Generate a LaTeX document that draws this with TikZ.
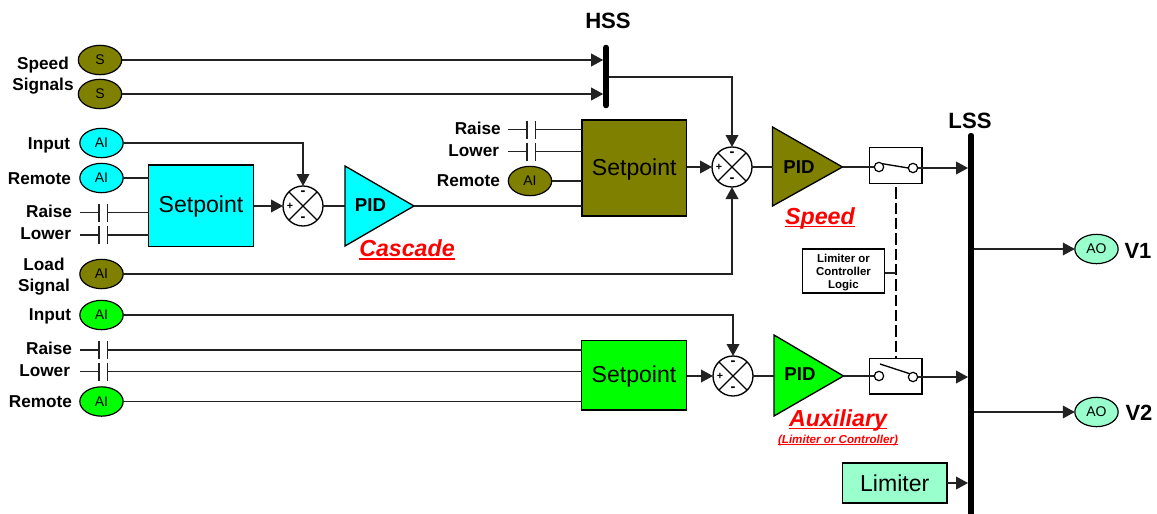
\documentclass[tikz,border=0pt]{standalone}
\usepackage{fontspec}
\setmainfont{Liberation Sans}
\usetikzlibrary{shapes.geometric,arrows.meta,calc}
\definecolor{olive}{HTML}{808000}
\definecolor{cy}{HTML}{00FFFF}
\definecolor{gr}{HTML}{00FF00}
\definecolor{aq}{HTML}{99FFCC}
\definecolor{ln}{HTML}{222222}
\newcommand{\fsz}[1]{\fontsize{#1}{#1}\selectfont}
\newsavebox{\ulbox}
\newcommand{\ulA}[1]{\sbox{\ulbox}{#1}\rlap{\rule[-2.4pt]{\wd\ulbox}{1.2pt}}\usebox{\ulbox}}
\newcommand{\ulB}[1]{\sbox{\ulbox}{#1}\rlap{\rule[-1.5pt]{\wd\ulbox}{.7pt}}\usebox{\ulbox}}
\newcommand{\spt}{\raisebox{-5.4pt}[0pt][0pt]{Setpoint}}
\tikzset{
  wire/.style={draw=ln,line width=1.1pt},
  arr/.style={wire,-{Triangle[length=9pt,width=9.5pt]}},
  sig/.style={ellipse,draw=black,line width=.9pt,inner sep=0pt,outer sep=0pt,minimum width=32.5pt,minimum height=22pt,fill=#1,font=\fsz{10.5}},
  spbox/.style={rectangle,draw=black,line width=1pt,inner sep=0pt,outer sep=0pt,fill=#1,font=\fsz{17.3}},
  lab/.style={inner sep=0pt,outer sep=0pt,font=\fsz{12.9}\bfseries,anchor=mid east,yshift=-2.2pt},
  clab/.style={inner sep=0pt,outer sep=0pt,font=\fsz{12.9}\bfseries,anchor=mid,yshift=-2.2pt},
  title/.style={inner sep=0pt,font=\fsz{16.6}\bfseries,anchor=mid,yshift=-3pt},
  pidt/.style={inner sep=0pt,font=\fsz{14}\bfseries},
  tag/.style={inner sep=0pt,text=red,font=\fsz{17.4}\bfseries\itshape},
  sumc/.style={circle,draw=black,line width=1pt,fill=white,inner sep=0pt,outer sep=0pt,minimum size=30pt},
  sgn/.style={inner sep=0pt,font=\fsz{8}\bfseries},
  sgm/.style={inner sep=0pt,font=\fsz{11}\bfseries},
  bus/.style={rectangle,fill=black,inner sep=0pt,outer sep=0pt,rounded corners=1.8pt},
  sw/.style={rectangle,draw=black,line width=.9pt,fill=white,inner sep=0pt,outer sep=0pt,minimum width=39.5pt,minimum height=26.5pt},
  pole/.style={circle,draw=black,line width=.9pt,fill=white,inner sep=0pt,outer sep=0pt,minimum size=7pt},
  plate/.style={draw=ln,line width=1pt},
  tri/.style={draw=black,line width=1pt,fill=#1},
}
% sum junction: name, x, y
\newcommand{\sumj}[3]{%
  \node[sumc] (#1) at (#2,#3) {};
  \draw[line width=1pt] (#1.45)--(#1.225) (#1.135)--(#1.315);
  \node[sgn] at ($(#1)+(-13,0)$) {+};
  \node[sgm] (#1t) at (#2,#3-13) {-};
  \node[sgm] (#1b) at (#2,#3+13) {-};
}
% contact: name, x of first plate, y
\newcommand{\contact}[3]{%
  \coordinate (#1a) at (#2-19,#3);
  \coordinate (#1p) at (#2,#3);
  \coordinate (#1q) at (#2+8.5,#3);
  \draw[plate] (#2,#3-9)--(#2,#3+9) (#2+8.5,#3-9)--(#2+8.5,#3+9);
  \draw[wire] (#1a)--(#1p);
}
\begin{document}
\begin{tikzpicture}[x=.75pt,y=-.75pt]
\useasboundingbox (0,0) rectangle (1157,514);
% buses
\node[bus,minimum width=4.2pt,minimum height=47.5pt] (hss) at (606,76.5) {};
\node[bus,minimum width=4.4pt,minimum height=291pt] (lss) at (971,327) {};
\node[title] (hsst) at (608,21) {HSS};
\node[title] (lsst) at (970,121) {LSS};
% speed signals
\node[sig=olive] (s1) at (100,60) {S};
\node[sig=olive] (s2) at (100,94) {S};
\node[clab] (ss1) at (43,63) {Speed};
\node[clab] (ss2) at (43,84) {Signals};
\draw[arr] (s1) -- (hss.west |- s1);
\draw[arr] (s2) -- (hss.west |- s2);
% cascade
\node[sig=cy] (ci) at (101.5,143) {AI};
\node[sig=cy] (cr) at (101.5,178) {AI};
\node[lab] (cil) at (70,143) {Input};
\node[lab] (crl) at (71,178) {Remote};
\node[lab] (cral) at (72,211) {Raise};
\node[lab] (clol) at (71,233) {Lower};
\node[spbox=cy,minimum width=78.75pt,minimum height=61pt] (csp) at (201,205.75) {\spt};
\contact{cra}{99}{212.5}
\contact{clo}{99}{235}
\draw[wire] (cr) -- (csp.west |- cr);
\draw[wire] (craq) -- (csp.west |- craq);
\draw[wire] (cloq) -- (csp.west |- cloq);
\sumj{cs}{303}{206}
\draw[arr] (ci) -| (cs.north);
\draw[arr] (csp.east |- cs) -- (cs.west);
\coordinate (cpa) at (345,206);
\coordinate (cpb) at (414,206);
\draw[tri=cy] (345,166) -- (cpb) -- (345,246) -- cycle;
\node[pidt] (cpl) at (370.5,205) {PID};
\draw[wire] (cs.east) -- (cpa);
\node[tag] (ctag) at (407,250) {\ulA{Cascade}};
% load
\node[sig=olive] (ls) at (101.5,274) {AI};
\node[clab] (ls1) at (44,264) {Load};
\node[clab] (ls2) at (44,285) {Signal};
% speed
\node[spbox=olive,minimum width=78.4pt,minimum height=72pt] (ssp) at (634.25,168) {\spt};
\node[lab] (sral) at (500.7,128) {Raise};
\node[lab] (slol) at (499,150) {Lower};
\node[lab] (srl) at (500,180) {Remote};
\node[sig=olive] (sr) at (530,181) {AI};
\contact{sra}{527}{129.5}
\contact{slo}{527}{151.5}
\draw[wire] (sraq) -- (ssp.west |- sraq);
\draw[wire] (sloq) -- (ssp.west |- sloq);
\draw[wire] (sr) -- (ssp.west |- sr);
\draw[wire] (cpb) -- (ssp.west |- cpb);
\sumj{ss}{732}{167}
\draw[arr] (hss.east |- 0,77) -| (ss.north);
\draw[arr] (ls) -| (ss.south);
\draw[arr] (ssp.east |- ss) -- (ss.west);
\coordinate (spa) at (772.5,167);
\coordinate (spb) at (842.5,167);
\draw[tri=olive] (772.5,127) -- (spb) -- (772.5,206) -- cycle;
\node[pidt] (spl) at (799,167) {PID};
\draw[wire] (ss.east) -- (spa);
\node[tag] (stag) at (820,218) {\ulA{Speed}};
\node[sw] (sw1) at (895.75,165.5) {};
\draw[wire] (spb) -- (sw1.west |- spb) -- (879,167);
\node[pole] (p1a) at (879,167) {};
\node[pole] (p1b) at (913,168) {};
\draw[line width=1pt] (p1a.north east) -- (p1b.west);
\draw[arr] (p1b.east) -- (lss.west |- p1b);
% logic
\node[rectangle,draw=black,line width=.9pt,fill=white,inner sep=0pt,outer sep=0pt,minimum width=62pt,minimum height=33pt,align=center,font=\fsz{8.6}\bfseries] (log) at (843.5,271) {\rule{0pt}{9pt}Limiter or\\[1.2pt]Controller\\[1.2pt]Logic};
% auxiliary
\node[sig=gr] (ai) at (101.5,315) {AI};
\node[sig=gr] (ar) at (101.5,401.5) {AI};
\node[lab] (ail) at (71,314) {Input};
\node[lab] (aral) at (72,348) {Raise};
\node[lab] (alol) at (70,370) {Lower};
\node[lab] (arl) at (72,401) {Remote};
\node[spbox=gr,minimum width=78.75pt,minimum height=52pt] (asp) at (634,375.25) {\spt};
\contact{ara}{99}{350}
\contact{alo}{99}{371.5}
\draw[wire] (araq) -- (asp.west |- araq);
\draw[wire] (aloq) -- (asp.west |- aloq);
\draw[wire] (ar) -- (asp.west |- ar);
\sumj{as}{733}{376}
\draw[arr] (ai) -| (as.north);
\draw[arr] (asp.east |- as) -- (as.west);
\coordinate (apa) at (774,376);
\coordinate (apb) at (843.5,376);
\draw[tri=gr] (774,335) -- (apb) -- (774,416) -- cycle;
\node[pidt] (apl) at (800,374) {PID};
\draw[wire] (as.east) -- (apa);
\node[tag] (atag) at (838,420) {\ulA{Auxiliary}};
\node[inner sep=0pt,text=red,font=\fsz{8.7}\bfseries\itshape] (atag2) at (838,440) {\ulB{(Limiter or Controller)}};
\node[sw] (sw2) at (895.75,376.25) {};
\draw[wire] (apb) -- (sw2.west |- apb) -- (879,376);
\node[pole] (p2a) at (879,376) {};
\node[pole] (p2b) at (913,377) {};
\draw[line width=1pt] (880,364) -- (p2b.north west);
\draw[arr] (p2b.east) -- (lss.west |- p2b);
% dashed link
\coordinate (tap) at (896,273);
\draw[draw=black,line width=1.5pt,dash pattern=on 8.5pt off 3pt] ($(sw1.south)+(0,4)$) -- (sw2.north);
\draw[wire] (log.east |- tap) -- (tap);
% outputs
\node[sig=aq] (ao1) at (1096.5,249) {AO};
\node[sig=aq] (ao2) at (1096.5,412) {AO};
\node[inner sep=0pt,font=\fsz{16.5}\bfseries] (v1) at (1138,250.5) {V1};
\node[inner sep=0pt,font=\fsz{16.5}\bfseries] (v2) at (1139,413) {V2};
\draw[arr] (lss.east |- ao1) -- (ao1.west);
\draw[arr] (lss.east |- ao2) -- (ao2.west);
% limiter
\node[rectangle,draw=black,line width=1pt,fill=aq,inner sep=0pt,outer sep=0pt,minimum width=78.5pt,minimum height=30pt,font=\fsz{17.3}] (lim) at (894.75,483) {Limiter};
\draw[arr] (lim.east) -- (lss.west |- lim);
\end{tikzpicture}
\end{document}
